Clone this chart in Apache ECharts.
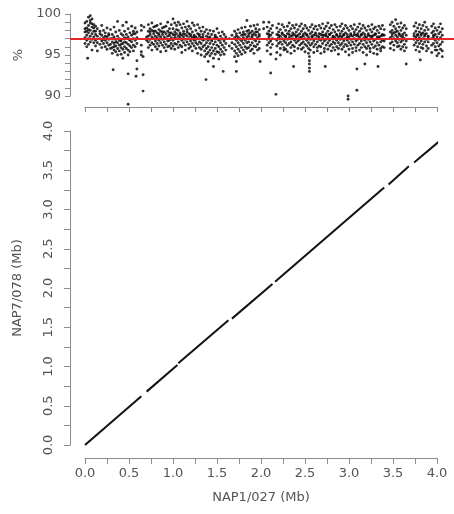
<!DOCTYPE html>
<html><head><meta charset="utf-8">
<script src="https://cdn.jsdelivr.net/npm/echarts@6/dist/echarts.min.js"></script>
<style>html,body{margin:0;padding:0;background:#fff}#c{width:454px;height:514px}</style>
</head><body><div id="c"></div>
<script>
// ---- alignment segments (NAP1/027 Mb vs NAP7/078 Mb) ----
const segX0 = [0.00, 0.70, 1.06, 1.67, 2.16, 3.45, 3.74];
const segY0 = [0.00, 0.68, 1.04, 1.61, 2.08, 3.32, 3.60];
const segX1 = [0.64, 1.05, 1.63, 2.13, 3.40, 3.68, 4.07];
const segY1 = [0.62, 1.02, 1.59, 2.05, 3.28, 3.55, 3.91];

// ---- identity (%) per window: [x (Mb), y1, y2, ...] ----
const identity1 = [
[0.00,98.9,97.8,97.1,96.4,98.2],[0.02,99.1,98.3,97.4,96.8,96.0,97.9],[0.04,99.6,98.6,97.7,97.0,96.3,98.1],
[0.06,99.8,98.9,98.0,97.3,96.6,99.2],[0.08,99.4,98.4,97.6,96.9,95.6,98.8],[0.10,98.7,97.9,97.2,96.5,98.3],
[0.12,98.5,97.5,96.8,96.1,97.9],[0.14,98.2,97.3,96.5,95.5],[0.17,97.9,97.0,96.3,97.6],[0.19,98.6,97.4,96.7,95.9],
[0.21,98.0,97.1,96.4,96.9],[0.23,97.7,96.8,96.0,97.3],[0.25,98.3,97.2,96.5,95.7],[0.27,97.6,96.9,96.2,97.4],
[0.29,98.1,97.0,96.3,95.8],[0.31,97.5,96.6,95.9,95.2,97.0],[0.33,98.4,97.2,96.4,95.6,96.0],[0.35,97.8,96.9,96.1,95.4,96.6],
[0.37,99.1,97.3,96.5,95.8,95.0],[0.39,98.0,97.0,96.2,95.5,96.8],[0.41,97.6,96.7,95.9,95.1,96.3],[0.43,98.6,97.4,96.4,95.7,94.6],
[0.45,97.9,97.1,96.0,95.3,96.6],[0.47,99.0,97.5,96.5,95.8,97.0],[0.49,98.2,97.2,96.3,95.6,95.0],[0.51,97.7,96.9,96.1,95.4,96.8],
[0.53,98.5,97.4,96.6,95.9],[0.55,97.9,97.0,96.2,95.5,97.6],[0.57,98.3,97.6,96.8,96.0],[0.59,97.8,97.1,96.4],
[0.64,98.6,98.0,96.2,95.4,95.0],[0.67,98.4],[0.70,97.2,96.8],[0.72,98.7,97.9,97.3,96.6,95.9],
[0.74,98.2,97.5,96.9,96.2,97.8],[0.76,98.9,98.0,97.2,96.5,95.6],[0.78,98.4,97.6,97.0,96.3,97.9],[0.80,97.9,97.3,96.7,96.0,98.5],
[0.82,98.6,97.7,97.1,96.4,95.7],[0.84,98.1,97.4,96.8,96.1,97.6],[0.86,98.8,97.9,97.2,96.5,95.4],[0.88,98.3,97.5,96.9,96.2,97.8],
[0.90,97.8,97.2,96.6,95.9,98.4],[0.92,98.5,97.6,97.0,96.3,95.5],[0.94,99.0,97.9,97.3,96.7,96.0],[0.96,98.2,97.4,96.8,96.1,97.7],
[0.98,98.7,97.7,97.1,96.4,95.8]
];
const identity2 = [
[1.00,99.4,98.2,97.5,96.8,96.1],[1.02,98.9,97.8,97.1,96.4,95.7,97.4],[1.04,98.6,97.6,97.0,96.3,98.1],[1.06,99.0,98.0,97.3,96.6,95.9],
[1.08,98.7,97.7,97.1,96.2,97.5],[1.10,98.3,97.4,96.8,96.0,95.3],[1.12,98.8,97.9,97.2,96.5,97.6],[1.14,98.4,97.5,96.9,96.2,95.6],
[1.16,99.1,98.1,97.3,96.6,97.8],[1.18,98.5,97.6,97.0,96.3,95.8],[1.20,98.2,97.3,96.7,96.0,97.5],[1.22,98.9,97.8,97.1,96.4,95.5],
[1.24,98.6,97.4,96.8,96.1,97.2],[1.26,98.0,97.2,96.5,95.8,96.9],[1.28,98.7,97.6,97.0,96.3,95.2],[1.30,98.3,97.3,96.6,95.9,97.5],
[1.32,97.9,97.1,96.4,95.7,95.0],[1.34,98.4,97.5,96.8,96.0,97.2],[1.36,97.8,96.9,96.2,95.5,94.8],[1.38,98.1,97.3,96.5,95.8,95.1],
[1.40,97.6,96.8,96.0,95.3,97.1],[1.42,98.0,97.2,96.4,95.6,94.9],[1.44,97.5,96.7,95.9,95.2,96.9],[1.46,97.9,97.0,96.3,95.5,94.6],
[1.48,97.4,96.6,95.8,95.1,97.2],[1.50,98.2,97.1,96.2,95.4],[1.52,97.7,96.8,96.0,95.3,94.5],[1.54,97.3,96.5,95.7,95.0,96.9],
[1.56,97.8,97.0,96.2,95.4],[1.58,97.5,96.7,95.9,95.1],[1.60,97.2,96.4,95.6],[1.64,97.0,96.1],[1.67,97.4,96.5,95.8],
[1.70,97.9,97.1,96.3,95.5,94.8],[1.72,97.6,96.8,96.0,95.2,97.3],[1.74,98.1,97.2,96.5,95.7,94.9],[1.76,97.7,96.9,96.2,95.4,97.0],
[1.78,98.3,97.4,96.7,95.9,95.1],[1.80,97.8,97.1,96.4,95.6,97.5],[1.82,98.4,97.5,96.8,96.0,95.3],[1.84,99.2,97.9,97.2,96.5,95.8],
[1.86,98.0,97.3,96.6,95.9,97.6],[1.88,98.5,97.7,97.0,96.2,95.5],[1.90,97.9,97.2,96.5,95.7,97.4],[1.92,98.6,97.6,96.9,96.1,95.2],
[1.94,98.2,97.4,96.7,96.0,97.8],[1.96,98.7,97.8,97.1,96.3,95.6],[1.98,98.1,97.3,96.6,95.8,97.5],[2.03,99.0,98.2]
];
const identity3 = [
[2.07,98.4,97.6,96.9,96.2,95.5],[2.09,99.0,97.9,97.2,96.5,97.5],[2.11,98.2,97.4,96.7,95.9,95.1],[2.13,98.6,97.7,97.0,96.3],
[2.18,98.3,97.5,96.8,96.1,95.3],[2.20,98.8,97.8,97.1,96.4,97.4],[2.22,98.1,97.3,96.6,95.8,95.0],[2.24,98.7,97.7,97.0,96.3,97.6],
[2.26,98.4,97.4,96.7,95.9,95.6],[2.28,98.0,97.2,96.5,95.7,97.3],[2.30,98.5,97.6,96.9,96.2,95.4],[2.32,98.9,97.9,97.1,96.4,97.5],
[2.34,98.2,97.3,96.6,95.9,95.2],[2.36,98.6,97.7,97.0,96.2,97.4],[2.38,98.3,97.5,96.8,96.0,95.5],[2.40,98.7,97.8,97.2,96.5,97.3],
[2.42,98.1,97.4,96.7,95.8],[2.44,98.5,97.6,96.9,96.2,97.1],[2.46,98.8,97.9,97.2,96.4,95.7],[2.48,98.2,97.3,96.6,95.9,97.5],
[2.50,98.6,97.7,97.0,96.3,95.4],[2.52,98.3,97.5,96.8,96.1,97.4],[2.54,98.0,97.2,96.5,95.8,95.2],[2.56,98.4,97.6,96.9,96.2,95.6],
[2.58,98.7,97.8,97.1,96.4,97.3],[2.60,98.2,97.4,96.7,96.0,95.3],[2.62,98.5,97.7,97.0,96.3,97.5],[2.64,98.1,97.3,96.6,95.9,95.5],
[2.66,98.6,97.6,96.9,96.1,97.2],[2.68,98.3,97.5,96.8,96.0,95.2],[2.70,98.8,97.8,97.1,96.4,97.4],[2.72,98.2,97.4,96.7,95.8,95.4],
[2.74,98.5,97.6,96.9,96.2,97.3],[2.76,98.9,97.9,97.2,96.5,95.7],[2.78,98.3,97.5,96.8,96.1,97.5],[2.80,98.6,97.7,97.0,96.3,95.5],
[2.82,98.1,97.3,96.6,95.9,97.2],[2.84,98.7,97.8,97.1,96.4,95.6],[2.86,98.4,97.5,96.8,96.0,97.4],[2.88,98.0,97.2,96.5,95.8,95.1],
[2.90,98.5,97.6,96.9,96.2,97.3],[2.92,98.8,97.9,97.2,96.4,95.7],[2.94,98.2,97.4,96.7,96.0,97.5],[2.96,98.6,97.7,97.0,96.3,95.4],
[2.98,98.3,97.5,96.8,96.1,97.2],[3.00,98.0,97.2,96.5,95.7,95.0],[3.02,98.5,97.6,96.9,96.2,97.4],[3.04,98.2,97.3,96.6,95.8,95.3],
[3.06,98.7,97.8,97.0,96.3,97.5],[3.08,98.1,97.4,96.7,95.9,95.5]
];
const identity4 = [
[3.10,98.4,97.6,96.9,96.2,97.3],[3.12,98.8,97.9,97.2,96.4,95.6],[3.14,98.2,97.4,96.7,95.9,97.5],[3.16,98.6,97.7,97.0,96.3,95.3],
[3.18,98.3,97.5,96.8,96.0,97.2],[3.20,98.0,97.2,96.5,95.8,95.0],[3.22,98.5,97.6,96.9,96.1,97.4],[3.24,98.1,97.3,96.6,95.8,95.4],
[3.26,98.7,97.8,97.1,96.3,97.3],[3.28,98.2,97.4,96.7,95.9,95.2],[3.30,98.4,97.6,96.9,96.1,97.5],[3.32,98.0,97.2,96.5,95.7,95.1],
[3.34,98.5,97.7,97.0,96.2,97.2],[3.36,98.2,97.3,96.6,95.8,95.5],[3.38,98.6,97.5,96.8,96.0,97.4],[3.40,98.1,97.4,96.7,95.9],
[3.47,98.7,97.8,97.1,96.4,95.8],[3.49,99.0,98.0,97.3,96.6,97.6],[3.51,98.5,97.7,97.0,96.2,95.6],[3.53,99.3,98.2,97.4,96.7,97.8],
[3.55,98.8,97.9,97.2,96.5,96.0],[3.57,98.4,97.6,96.9,96.1,97.5],[3.59,98.9,98.0,97.3,96.6,95.7],[3.61,98.3,97.5,96.8,96.0,97.2],
[3.63,98.6,97.7,97.0,96.3,95.5],[3.65,98.2,97.4,96.7,95.9],[3.74,98.5,97.6,96.9,96.2,97.3],[3.76,98.9,97.9,97.2,96.5,95.6],
[3.78,98.3,97.5,96.8,96.0,97.4],[3.80,98.7,97.8,97.1,96.4,95.4],[3.82,98.2,97.4,96.7,95.9,97.6],[3.84,98.6,97.7,97.0,96.3,95.8],
[3.86,99.0,98.0,97.3,96.6,97.5],[3.88,98.4,97.6,96.9,96.1,95.5],[3.90,98.1,97.3,96.6,95.8,97.2],[3.94,98.5,97.7,97.0,96.2,95.3],
[3.96,98.8,97.9,97.2,96.4,97.4],[3.98,98.3,97.5,96.8,96.0,95.6],[4.00,98.0,97.2,96.5,95.6,94.9],[4.02,98.4,97.6,96.9,96.1,95.2],
[4.04,98.8,97.8,97.1,96.3,95.7],[4.06,98.2,97.4,96.6,95.5,94.8]
];
const outlierX = [0.03,0.32,0.49,0.49,0.58,0.59,0.59,0.66,0.66,0.66,1.375,1.40,1.46,1.57,1.72,1.72,1.99,2.11,2.17,2.17,2.37,2.55,2.55,2.55,2.55,2.55,2.73,2.99,2.99,3.09,3.09,3.18,3.33,3.65,3.81];
const outlierY = [94.6,93.2,92.7,89.0,92.4,93.3,94.3,92.6,90.6,94.8,92.0,94.2,93.6,93.0,93.0,94.2,94.2,92.8,90.2,94.5,93.6,93.0,93.4,93.9,94.3,94.8,93.6,90.0,89.6,90.7,93.3,93.9,93.6,93.9,94.4];
const meanIdentity = 97;

// ---- build series data ----
const pts = [];
[identity1, identity2, identity3, identity4].forEach(block => block.forEach(col => {
  for (let i = 1; i < col.length; i++) pts.push([col[0], col[i]]);
}));
outlierX.forEach((x, i) => pts.push([x, outlierY[i]]));
const segs = segX0.map((x, i) => ({ coords: [[x, segY0[i]], [segX1[i], segY1[i]]] }));

const FONT = 'DejaVu Sans';
const TXT = '#555555';
const AX = '#8c8c8c';
const half = v => Math.abs(v * 2 - Math.round(v * 2)) < 1e-6;
const line = { show: true, onZero: false, lineStyle: { color: AX, width: 1 } };

const chart = echarts.init(document.getElementById('c'));
chart.setOption({
  animation: false,
  backgroundColor: '#ffffff',
  textStyle: { fontFamily: FONT },
  grid: [
    { left: 85, top: 14, width: 352, height: 82 },
    { left: 70, top: 14, right: 0, height: 82 },
    { left: 85, top: 131, width: 352, height: 314 }
  ],
  xAxis: [
    { gridIndex: 0, type: 'value', min: 0, max: 4, interval: 0.25, offset: 11,
      axisLine: line,
      axisTick: { show: true, length: 5, lineStyle: { color: AX } },
      axisLabel: { show: false }, splitLine: { show: false } },
    { gridIndex: 1, type: 'value', min: 0, max: 1, show: false },
    { gridIndex: 2, type: 'value', min: 0, max: 4, interval: 0.25, offset: 13,
      axisLine: line,
      axisTick: { show: true, length: 6, lineStyle: { color: AX } },
      axisLabel: { color: TXT, fontSize: 13, fontFamily: FONT, margin: 9,
        formatter: v => half(v) ? v.toFixed(1) : '' },
      splitLine: { show: false },
      name: 'NAP1/027 (Mb)', nameLocation: 'middle', nameGap: 33,
      nameTextStyle: { color: TXT, fontSize: 13, fontFamily: FONT } }
  ],
  yAxis: [
    { gridIndex: 0, type: 'value', min: 90, max: 100, interval: 1, offset: 15,
      axisLine: line,
      axisTick: { show: true, length: 5, lineStyle: { color: AX } },
      axisLabel: { color: TXT, fontSize: 13, fontFamily: FONT, margin: 9,
        formatter: v => (Math.round(v) % 5 === 0 ? String(v) : '') },
      splitLine: { show: false },
      name: '%', nameLocation: 'middle', nameGap: 33,
      nameTextStyle: { color: TXT, fontSize: 13, fontFamily: FONT } },
    { gridIndex: 1, type: 'value', min: 90, max: 100, show: false },
    { gridIndex: 2, type: 'value', min: 0, max: 4, interval: 0.25, offset: 15,
      axisLine: line,
      axisTick: { show: true, length: 6, lineStyle: { color: AX } },
      axisLabel: { color: TXT, fontSize: 13, fontFamily: FONT, margin: 15, rotate: 90,
        formatter: v => half(v) ? v.toFixed(1) : '' },
      splitLine: { show: false },
      name: 'NAP7/078 (Mb)', nameLocation: 'middle', nameGap: 46,
      nameTextStyle: { color: TXT, fontSize: 13, fontFamily: FONT } }
  ],
  series: [
    { type: 'scatter', xAxisIndex: 0, yAxisIndex: 0, data: pts, symbolSize: 2.9,
      clip: false, silent: true, itemStyle: { color: '#000000' } },
    { type: 'scatter', xAxisIndex: 1, yAxisIndex: 1, data: [], z: 5,
      markLine: { silent: true, symbol: 'none', label: { show: false },
        lineStyle: { color: '#e3262b', width: 2, type: 'solid' },
        data: [{ yAxis: meanIdentity }] } },
    { type: 'lines', coordinateSystem: 'cartesian2d', xAxisIndex: 2, yAxisIndex: 2,
      data: segs, silent: true,
      lineStyle: { color: '#111111', width: 2, opacity: 1 } }
  ]
});
</script>
</body></html>
